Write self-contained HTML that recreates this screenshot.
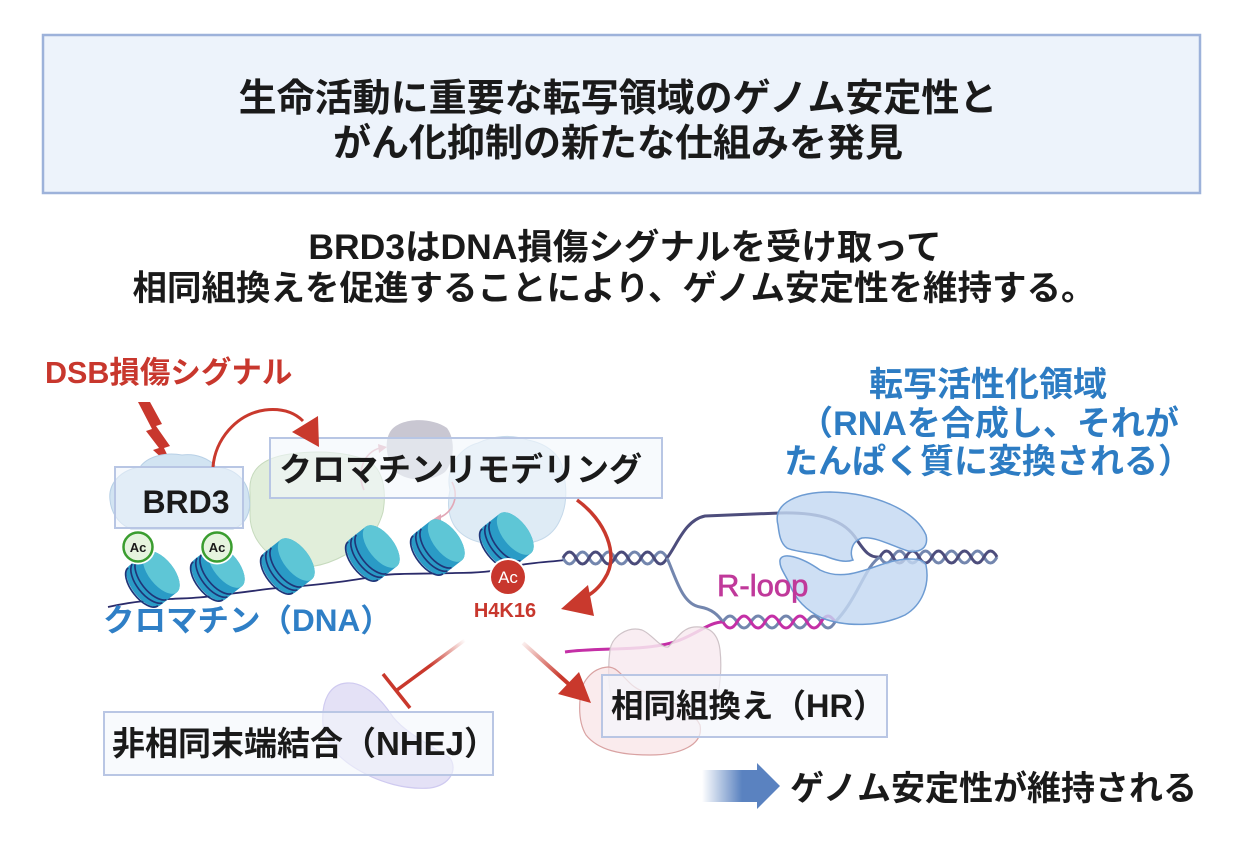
<!DOCTYPE html>
<html><head><meta charset="utf-8"><style>
html,body{margin:0;padding:0;background:#fff;}
svg{display:block;}
text{font-family:"Liberation Sans","Noto Sans CJK JP",sans-serif;font-weight:bold;}
</style></head><body>
<svg width="1249" height="857" viewBox="0 0 1249 857" xmlns="http://www.w3.org/2000/svg">
<defs>
  <g id="nuc">
    <path d="M-10,-24 L10,-24 A12,24 0 0 1 10,24 L-10,24 A12,24 0 0 1 -10,-24 Z" fill="#2a9bc6"/>
    <ellipse cx="10" cy="0" rx="12" ry="24" fill="#5ec6d6"/>
    <path d="M-2,-23.5 A12,24 0 0 0 -2,23.5 M-7,-23.5 A12,24 0 0 0 -7,23.5 M-12,-23 A11,23 0 0 0 -12,23" fill="none" stroke="#1f3578" stroke-width="1.6"/>
  </g>
  <linearGradient id="gHR" gradientUnits="userSpaceOnUse" x1="520" y1="640" x2="560" y2="678">
    <stop offset="0" stop-color="#c9382c" stop-opacity="0"/>
    <stop offset="1" stop-color="#c9382c" stop-opacity="1"/>
  </linearGradient>
  <linearGradient id="gNH" gradientUnits="userSpaceOnUse" x1="465" y1="640" x2="430" y2="666">
    <stop offset="0" stop-color="#c9382c" stop-opacity="0"/>
    <stop offset="1" stop-color="#c9382c" stop-opacity="1"/>
  </linearGradient>
  <linearGradient id="gBlue" gradientUnits="userSpaceOnUse" x1="702" y1="0" x2="742" y2="0">
    <stop offset="0" stop-color="#ffffff"/>
    <stop offset="1" stop-color="#5a82c0"/>
  </linearGradient>
</defs>

<!-- Title box -->
<rect x="43" y="35" width="1157" height="158" fill="#edf3fb" stroke="#9db2da" stroke-width="2.5"/>
<text x="618" y="111" font-size="38" text-anchor="middle" fill="#1a1a1a">生命活動に重要な転写領域のゲノム安定性と</text>
<text x="618" y="156" font-size="38" text-anchor="middle" fill="#1a1a1a">がん化抑制の新たな仕組みを発見</text>

<!-- Subtitle -->
<text x="625" y="259" font-size="35.5" text-anchor="middle" fill="#1a1a1a">BRD3はDNA損傷シグナルを受け取って</text>
<text x="614" y="300" font-size="34.5" text-anchor="middle" fill="#1a1a1a">相同組換えを促進することにより、ゲノム安定性を維持する。</text>

<!-- DSB -->
<text x="45" y="383" font-size="30.5" fill="#c8372d">DSB損傷シグナル</text>
<path d="M138,402 L150,402 L162,424 L156,426 L170,446 L164,448 L174,469 L153,450 L159,448 L146,431 L152,429 Z" fill="#c8372d"/>

<!-- Right blue text -->
<text x="988" y="396" font-size="34" text-anchor="middle" fill="#2d7cc3">転写活性化領域</text>
<text x="989" y="435" font-size="34" text-anchor="middle" fill="#2d7cc3">（RNAを合成し、それが</text>
<text x="988" y="473" font-size="34" text-anchor="middle" fill="#2d7cc3">たんぱく質に変換される）</text>

<!-- background blobs -->
<path d="M250,493 C248,470 262,458 290,454 C320,450 350,452 370,462 C385,472 386,495 383,512 C378,530 368,545 345,555 C325,566 300,572 282,562 C262,552 250,535 250,515 Z" fill="#dcebd4" fill-opacity="0.85" stroke="#c6dabd" stroke-width="1"/>
<path d="M390,432 C398,418 430,416 447,428 C456,440 454,462 445,472 C432,482 408,482 396,472 C386,460 384,442 390,432 Z" fill="#c9c7d2"/>
<path d="M450,490 C445,470 458,448 478,443 C492,436 512,434 528,440 C548,444 562,456 563,472 C568,490 566,508 560,520 C552,538 535,545 515,543 C495,545 476,545 462,534 C450,525 446,508 450,490 Z" fill="#d3e4f1" fill-opacity="0.75" stroke="#c5d9ea" stroke-width="1"/>
<path d="M110,500 C108,484 120,470 140,467 C148,456 166,452 182,455 C196,453 210,459 216,467 C234,468 248,480 249,497 C252,512 245,525 233,529 L131,529 C118,524 111,512 110,500 Z" fill="#d2e4f2" stroke="#b8d0e6" stroke-width="1"/>

<!-- small pink arrows -->
<path d="M364,490 C356,472 364,452 380,448" fill="none" stroke="#e2a7b6" stroke-width="1.6"/>
<path d="M378,444 L387,447 L379,453 Z" fill="#e2a7b6"/>
<path d="M452,482 C460,498 452,514 436,519" fill="none" stroke="#e2a7b6" stroke-width="1.6"/>
<path d="M432,520 L441,514 L441,524 Z" fill="#e2a7b6"/>

<!-- boxes -->
<rect x="115" y="467" width="128" height="61" fill="#eef4fb" fill-opacity="0.55" stroke="#b8c6e4" stroke-width="2"/>
<rect x="270" y="438" width="392" height="60" fill="#f2f6fc" fill-opacity="0.6" stroke="#b8c6e4" stroke-width="2"/>

<!-- red curved arrow to remodeling -->
<path d="M213,467 C215,440 236,414 265,410 C283,408 295,413 303,421" fill="none" stroke="#c9392d" stroke-width="3"/>
<path d="M319,447 L292,432 L318,416 Z" fill="#c9392d"/>

<!-- DNA line -->
<path d="M108,607 C130,602 150,600 170,599 C190,598 200,598 212,596 C225,594 240,593 260,590 C280,587 300,587 330,583 C350,581 365,578 385,575 C400,573 430,574 455,573 C475,573 495,572 515,566 C535,562 550,562 565,560" fill="none" stroke="#2b2b6a" stroke-width="1.8"/>

<!-- nucleosomes -->
<use href="#nuc" transform="translate(153,579) rotate(-38) scale(1.05)"/>
<use href="#nuc" transform="translate(218,573) rotate(-38) scale(1.05)"/>
<use href="#nuc" transform="translate(288,566) rotate(-38) scale(1.05)"/>
<use href="#nuc" transform="translate(373,553) rotate(-38) scale(1.05)"/>
<use href="#nuc" transform="translate(438,547) rotate(-38) scale(1.05)"/>
<use href="#nuc" transform="translate(507,540) rotate(-38) scale(1.05)"/>

<!-- Ac green -->
<circle cx="138" cy="547" r="17.5" fill="#ffffff"/>
<circle cx="138" cy="547" r="14.5" fill="#e6f4df" stroke="#3a9d2f" stroke-width="2.5"/>
<text x="138" y="552" font-size="13" text-anchor="middle" fill="#1a1a1a">Ac</text>
<circle cx="217" cy="547" r="17.5" fill="#ffffff"/>
<circle cx="217" cy="547" r="14.5" fill="#e6f4df" stroke="#3a9d2f" stroke-width="2.5"/>
<text x="217" y="552" font-size="13" text-anchor="middle" fill="#1a1a1a">Ac</text>

<!-- red Ac -->
<circle cx="508" cy="577" r="19" fill="#ffffff"/>
<circle cx="508" cy="577" r="17" fill="#c8372d"/>
<text x="508" y="583" font-size="17" text-anchor="middle" fill="#ffffff" style="font-weight:normal">Ac</text>
<text x="505" y="617" font-size="20" text-anchor="middle" fill="#c8372d">H4K16</text>

<!-- helices -->
<path d="M563,558 Q569.5,570 576,558 T589,558 T602,558 T615,558 T628,558 T641,558 T654,558 T667,558" fill="none" stroke="#7386ae" stroke-width="3"/>
<path d="M563,558 Q569.5,546 576,558 T589,558 T602,558 T615,558 T628,558 T641,558 T654,558 T667,558" fill="none" stroke="#4a4b7a" stroke-width="3"/>
<path d="M667,558 C677,545 685,520 705,516 L780,513 C820,512 845,520 857,540 C865,552 870,558 880,557" fill="none" stroke="#4d4d7c" stroke-width="3"/>
<path d="M667,558 C676,578 682,604 700,607 C712,609 718,615 723,622" fill="none" stroke="#7386ae" stroke-width="3"/>
<path d="M835,622 C845,612 852,600 860,585 C867,572 872,562 880,557" fill="none" stroke="#7386ae" stroke-width="3"/>
<path d="M880,557 Q886.5,569 893,557 T906,557 T919,557 T932,557 T945,557 T958,557 T971,557 T984,557 T997,557" fill="none" stroke="#7386ae" stroke-width="3"/>
<path d="M880,557 Q886.5,545 893,557 T906,557 T919,557 T932,557 T945,557 T958,557 T971,557 T984,557 T997,557" fill="none" stroke="#4d4d7c" stroke-width="3"/>
<path d="M565,652 C600,647 650,652 680,640 C700,632 710,622 723,622" fill="none" stroke="#c42fa6" stroke-width="3"/>
<path d="M723,622 Q730,610 737,622 T751,622 T765,622 T779,622 T793,622 T807,622 T821,622 T835,622" fill="none" stroke="#7386ae" stroke-width="3"/>
<path d="M723,622 Q730,634 737,622 T751,622 T765,622 T779,622 T793,622 T807,622 T821,622 T835,622" fill="none" stroke="#c42fa6" stroke-width="3"/>

<!-- polymerase -->
<path d="M778,525 C772,502 800,492 830,492 C875,493 915,510 926,535 C929,548 920,553 908,551 C892,546 875,536 862,538 C850,542 850,555 853,560 C845,563 835,560 825,556 C810,552 795,552 787,548 C780,543 779,533 778,525 Z" fill="#c3d8f2" fill-opacity="0.82" stroke="#6d9bd2" stroke-width="1.5"/>
<path d="M780,560 C782,552 800,556 820,570 C840,580 860,572 880,565 C900,558 922,556 926,565 C930,585 922,605 905,615 C880,627 845,627 822,618 C805,610 795,598 790,585 C786,575 779,568 780,560 Z" fill="#c3d8f2" fill-opacity="0.82" stroke="#6d9bd2" stroke-width="1.5"/>

<text x="717" y="596" font-size="31" fill="#c0399a" stroke="#c0399a" stroke-width="0.7" style="font-weight:normal">R-loop</text>

<!-- red curved arrow to H4K16 -->
<path d="M577,500 C605,520 620,555 605,578 C598,590 590,595 583,598" fill="none" stroke="#c9392d" stroke-width="3.5"/>
<path d="M561,609 L588,585 L594,616 Z" fill="#c9392d"/>

<text x="103" y="631" font-size="31.5" fill="#2f7fc6">クロマチン（DNA）</text>

<!-- pink blobs -->
<path d="M610,650 C612,636 628,626 642,630 C652,634 660,648 668,647 C676,640 682,628 694,627 C708,626 718,632 720,650 C722,668 720,690 716,700 L612,700 C608,685 608,665 610,650 Z" fill="#f8eaf0" fill-opacity="0.85" stroke="#cfc3c8" stroke-width="1.2"/>
<path d="M580,700 C580,682 592,668 608,667 C620,667 626,684 640,690 C660,698 690,705 700,725 C704,745 680,755 650,755 C620,755 598,750 586,735 C580,725 579,712 580,700 Z" fill="#f8e2e6" fill-opacity="0.7" stroke="#d9a2a2" stroke-width="1.2"/>

<!-- HR arrow -->
<line x1="523" y1="643" x2="572" y2="687" stroke="url(#gHR)" stroke-width="4"/>
<path d="M591,703 L558,694 L579,672 Z" fill="#c9382c"/>

<!-- HR box -->
<rect x="602" y="675" width="285" height="62" fill="#f3f6fc" fill-opacity="0.7" stroke="#b9c6e4" stroke-width="2"/>
<text x="611" y="717" font-size="32.5" fill="#1a1a1a">相同組換え（HR）</text>

<!-- NHEJ -->
<path d="M347,683 C360,682 375,690 393,717 C405,732 425,742 450,758 C458,770 450,785 430,788 C405,790 380,782 362,772 C340,760 325,745 323,725 C321,700 330,684 347,683 Z" fill="#e4e1f6" stroke="#cfcaf0" stroke-width="1.2"/>
<rect x="104" y="712" width="389" height="63" fill="#f3f6fc" fill-opacity="0.6" stroke="#b9c6e4" stroke-width="2"/>
<line x1="465" y1="640" x2="397" y2="690" stroke="url(#gNH)" stroke-width="3.5"/>
<line x1="383" y1="674" x2="410" y2="708" stroke="#c9382c" stroke-width="3.5"/>
<text x="112" y="755" font-size="33" fill="#1a1a1a">非相同末端結合（NHEJ）</text>

<!-- BRD3 / remodeling text -->
<text x="186" y="513" font-size="32" text-anchor="middle" fill="#1a1a1a">BRD3</text>
<text x="279" y="481" font-size="33" fill="#1a1a1a">クロマチンリモデリング</text>

<!-- bottom arrow -->
<path d="M702,770 L757,770 L757,763 L780,786 L757,809 L757,802 L702,802 Z" fill="url(#gBlue)"/>
<text x="790" y="800" font-size="34" fill="#1a1a1a">ゲノム安定性が維持される</text>
</svg>
</body></html>
